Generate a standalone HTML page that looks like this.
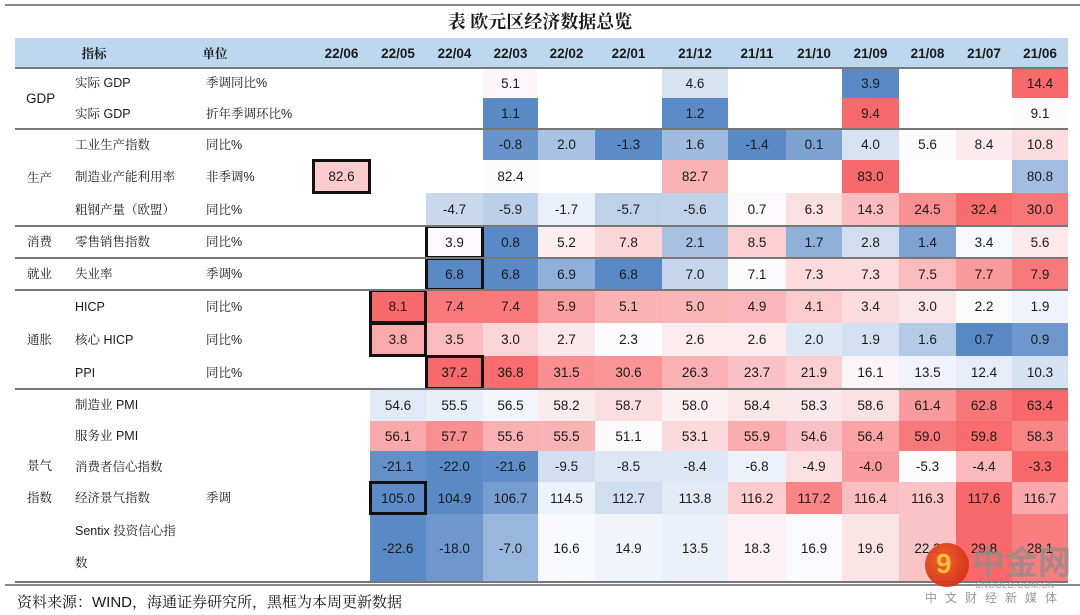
<!DOCTYPE html>
<html><head><meta charset="utf-8">
<style>
body{margin:0;width:1080px;height:615px;background:#fff;position:relative;overflow:hidden;font-family:"Liberation Sans","Noto Sans CJK SC",sans-serif;color:#1a1a1a}
.a{position:absolute}
.c{position:absolute;display:flex;align-items:center;justify-content:center;font-size:13.5px;box-sizing:border-box}
.lb{position:absolute;font-size:12.5px;line-height:18px;height:18px;font-family:"Liberation Sans","Noto Serif CJK SC",serif;white-space:nowrap}
.hd{position:absolute;font-size:13.5px;font-weight:bold;display:flex;align-items:center;justify-content:center}
.hl{position:absolute;left:15px;width:1053px;height:2px;background:#777}
</style></head><body>
<div class="a" style="left:5px;top:4px;width:1075px;height:2px;background:#888"></div>
<div class="a" style="left:0;top:8px;width:1080px;text-align:center;font-size:18px;font-weight:bold;font-family:'Liberation Serif','Noto Serif CJK SC',serif">表 欧元区经济数据总览</div>
<div class="a" style="left:15px;top:38px;width:1053px;height:30px;background:#bdd7ee"></div>
<div id="tbl"></div>
<div class="a" style="left:5px;top:584px;width:1075px;height:2px;background:#888"></div>
<div class="a" style="left:17px;top:591px;font-size:15px;font-family:'Liberation Sans','Noto Serif CJK SC',serif">资料来源：WIND，海通证券研究所，黑框为本周更新数据</div>
<div class="a" style="left:925px;top:543px;width:44px;height:44px;border-radius:50%;background:radial-gradient(circle at 40% 40%,#f05a1a,#c8261a);opacity:.95"></div>
<div class="a" style="left:936px;top:548px;font-size:28px;font-weight:bold;color:#f7c23a">9</div>
<div class="a" style="left:972px;top:540px;font-size:33px;font-weight:bold;color:rgba(140,140,140,.75);font-family:'Noto Sans CJK SC',sans-serif;line-height:40px">中金网</div>
<div class="a" style="left:975px;top:580px;font-size:8.5px;color:#999;letter-spacing:.5px">CNGOLD.COM.CN</div>
<div class="a" style="left:925px;top:589px;font-size:12px;color:#999;letter-spacing:8px;font-family:'Noto Sans CJK SC',sans-serif">中文财经新媒体</div>
<script>
const months=["22/06","22/05","22/04","22/03","22/02","22/01","21/12","21/11","21/10","21/09","21/08","21/07","21/06"];
const indicators=["实际 GDP","实际 GDP","工业生产指数","制造业产能利用率","粗钢产量（欧盟）","零售销售指数","失业率","HICP","核心 HICP","PPI","制造业 PMI","服务业 PMI","消费者信心指数","经济景气指数","Sentix 投资信心指"];
const units=["季调同比%","折年季调环比%","同比%","非季调%","同比%","同比%","季调%","同比%","同比%","同比%","","","","季调",""];
const N=null;
const gdpYoy=[N,N,N,5.1,N,N,4.6,N,N,3.9,N,N,14.4];
const gdpQoq=[N,N,N,1.1,N,N,1.2,N,N,9.4,N,N,9.1];
const indProd=[N,N,N,-0.8,2.0,-1.3,1.6,-1.4,0.1,4.0,5.6,8.4,10.8];
const capUtil=[82.6,N,N,82.4,N,N,82.7,N,N,83.0,N,N,80.8];
const steel=[N,N,-4.7,-5.9,-1.7,-5.7,-5.6,0.7,6.3,14.3,24.5,32.4,30.0];
const retail=[N,N,3.9,0.8,5.2,7.8,2.1,8.5,1.7,2.8,1.4,3.4,5.6];
const unemp=[N,N,6.8,6.8,6.9,6.8,7.0,7.1,7.3,7.3,7.5,7.7,7.9];
const hicp=[N,8.1,7.4,7.4,5.9,5.1,5.0,4.9,4.1,3.4,3.0,2.2,1.9];
const coreHicp=[N,3.8,3.5,3.0,2.7,2.3,2.6,2.6,2.0,1.9,1.6,0.7,0.9];
const ppi=[N,N,37.2,36.8,31.5,30.6,26.3,23.7,21.9,16.1,13.5,12.4,10.3];
const mfgPmi=[N,54.6,55.5,56.5,58.2,58.7,58.0,58.4,58.3,58.6,61.4,62.8,63.4];
const svcPmi=[N,56.1,57.7,55.6,55.5,51.1,53.1,55.9,54.6,56.4,59.0,59.8,58.3];
const consConf=[N,-21.1,-22.0,-21.6,-9.5,-8.5,-8.4,-6.8,-4.9,-4.0,-5.3,-4.4,-3.3];
const econSent=[N,105.0,104.9,106.7,114.5,112.7,113.8,116.2,117.2,116.4,116.3,117.6,116.7];
const sentix=[N,-22.6,-18.0,-7.0,16.6,14.9,13.5,18.3,16.9,19.6,22.2,29.8,28.1];
const rows=[gdpYoy,gdpQoq,indProd,capUtil,steel,retail,unemp,hicp,coreHicp,ppi,mfgPmi,svcPmi,consConf,econSent,sentix];
const scaleLow=[3.9,1.1,-1.4,79.5,-15,0.8,6.8,-0.5,0.7,-5,40,30,-22,104.9,-22.6];
const scaleMid=[4.8,9.1,5.6,82.4,0,3.5,7.1,2.1,2.3,15,57.5,51,-5.3,115.5,17.5];
const scaleHigh=[14.4,9.4,30,83.0,33,20,8.0,8.1,5,37.2,63.4,60,-3.3,117.6,29.8];
const highlighted=[[3,0],[5,2],[6,2],[7,1],[8,1],[9,2],[13,1]];
const groups=[["GDP",0,1],["生产",2,4],["消费",5,5],["就业",6,6],["通胀",7,9]];

const colX=[313,370,426,483,538,595,662,728,786,842,899,956,1012,1068];
const rowY=[68,98,129,160,193,226,258,290,323,356,389,421,451,482,514,582];
const T=document.getElementById('tbl');
function mk(cls,style,txt){const d=document.createElement('div');d.className=cls;d.style.cssText=style;if(txt!=null)d.textContent=txt;T.appendChild(d);return d;}
function mix(a,b,t){t=Math.max(0,Math.min(1,t));return 'rgb('+a.map((v,i)=>Math.round(v+(b[i]-v)*t)).join(',')+')';}
const RED=[248,105,107],WHITE=[252,252,255],BLUE=[90,138,198];
function color(v,r){const lo=scaleLow[r],md=scaleMid[r],hi=scaleHigh[r];
 if(v>=md)return mix(WHITE,RED,hi===md?0:(v-md)/(hi-md));
 return mix(WHITE,BLUE,md===lo?1:(md-v)/(md-lo));}
let h=mk('hd','left:64px;top:38px;width:60px;height:30px;font-size:12.5px;font-family:"Liberation Serif","Noto Serif CJK SC",serif','指标');


h=mk('hd','left:195px;top:38px;width:40px;height:30px;font-size:12.5px;font-family:"Liberation Serif","Noto Serif CJK SC",serif','单位');


months.forEach((m,i)=>{const e=mk('hd',`left:${colX[i]}px;top:38px;width:${colX[i+1]-colX[i]}px;height:30px`,m);

});
rows.forEach((arr,r)=>{
 const y0=rowY[r],y1=rowY[r+1],hh=y1-y0;
 arr.forEach((v,c)=>{if(v==null)return;
  const e=mk('c',`left:${colX[c]}px;top:${y0}px;width:${colX[c+1]-colX[c]}px;height:${hh}px;background:${color(v,r)}`,v.toFixed(1));
  
  });
 const lbl=mk('lb',`left:75px;top:${y0+(r==14?8:hh/2-9)}px`,indicators[r]);
 
 
 if(r==14){const l2=mk('lb',`left:75px;top:${y0+40}px`,'数');
  
  }
 const u=mk('lb',`left:206px;top:${y0+hh/2-9}px`,units[r]);
 
 
});
highlighted.forEach(([r,c])=>{const e=mk('a',`left:${colX[c]-1}px;top:${rowY[r]-1}px;width:${colX[c+1]-colX[c]+2}px;height:${rowY[r+1]-rowY[r]+2}px;border:3px solid #111;box-sizing:border-box`);
 
 });
groups.forEach(([g,a,b])=>{const y=(rowY[a]+rowY[b+1])/2-9;const e=mk('lb',`left:${g=='GDP'?26:27}px;top:${y}px;font-size:${g=='GDP'?13.5:12.5}px`,g);
 
 });
let g1=mk('lb',`left:27px;top:${rowY[12]+6}px`,'景气');


let g2=mk('lb',`left:27px;top:${rowY[13]+7}px`,'指数');


[68,129,226,258,290,389,582].forEach(y=>{const e=mk('hl',`top:${y-1}px`);
 
 });
</script>
</body></html>
